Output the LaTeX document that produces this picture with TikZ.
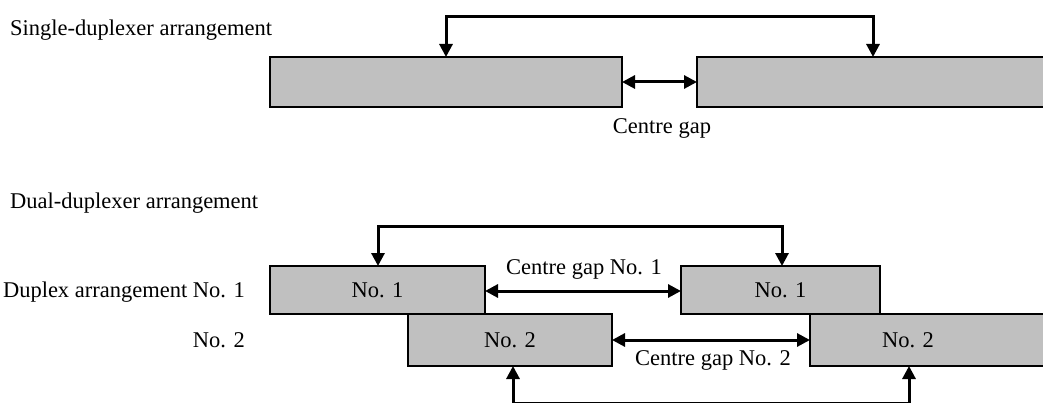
\documentclass[tikz,border=0pt]{standalone}
\usepackage{fontspec}
\setmainfont{Liberation Serif}
\usetikzlibrary{arrows.meta}
\definecolor{boxgrey}{HTML}{C0C0C0}
\begin{document}
\begin{tikzpicture}[x=1pt,y=-1pt,
  every node/.style={font=\fontsize{22.5}{26}\selectfont, inner sep=0pt},
  blk/.style={draw=black, fill=boxgrey, line width=2pt, rectangle, outer sep=0pt, anchor=north west},
  conn/.style={line width=3pt, {Triangle[length=13pt,width=13pt]}-{Triangle[length=13pt,width=13pt]}},
  lbl/.style={anchor=center}]
\useasboundingbox (0,0) rectangle (1043,403);
\fill[white] (0,0) rectangle (1043,403);
\clip (0,0) rectangle (1043,403);

% Single-duplexer arrangement
\node[anchor=west] (t1) at (10,30) {Single-duplexer arrangement};
\node[blk, minimum width=352pt, minimum height=50pt] (A) at (270,57) {};
\node[blk, minimum width=380pt, minimum height=50pt] (B) at (697,57) {};
\draw[conn] ([xshift=176pt]A.north west) -- ++(0,-40) -| ([xshift=176pt]B.north west);
\draw[conn] (A.east) -- (B.west);
\node[lbl] (g0) at (662,128) {Centre gap};

% Dual-duplexer arrangement
\node[anchor=west] (t2) at (10,203) {Dual-duplexer arrangement};
\node[blk, minimum width=215pt, minimum height=48pt] (C) at (270,266) {};
\node[blk, minimum width=204pt, minimum height=52pt] (E) at (408,314) {};
\node[blk, minimum width=199pt, minimum height=48pt] (D) at (681,266) {};
\node[blk, minimum width=260pt, minimum height=52pt] (F) at (810,314) {};
\node[lbl] (cl) at (C.center) {No. 1};
\node[lbl] (dl) at (D.center) {No. 1};
\node[lbl] (el) at (E.center) {No. 2};
\node[lbl] (fl) at (908,340) {No. 2};

\node[anchor=east] (r1) at (245,292) {Duplex arrangement No. 1};
\node[anchor=east] (r2) at (245,340) {No. 2};

\draw[conn] ([xshift=108pt]C.north west) -- ++(0,-39) -| ([xshift=101pt]D.north west);
\draw[conn] ([xshift=105pt]E.south west) -- ++(0,37) -| ([xshift=99pt]F.south west);
\draw[conn] (C.east |- 0,291) -- (D.west |- 0,291);
\draw[conn] (E.east) -- (F.west);
\node[lbl] (g1) at (584,269) {Centre gap No. 1};
\node[lbl] (g2) at (713,360) {Centre gap No. 2};
\end{tikzpicture}
\end{document}
